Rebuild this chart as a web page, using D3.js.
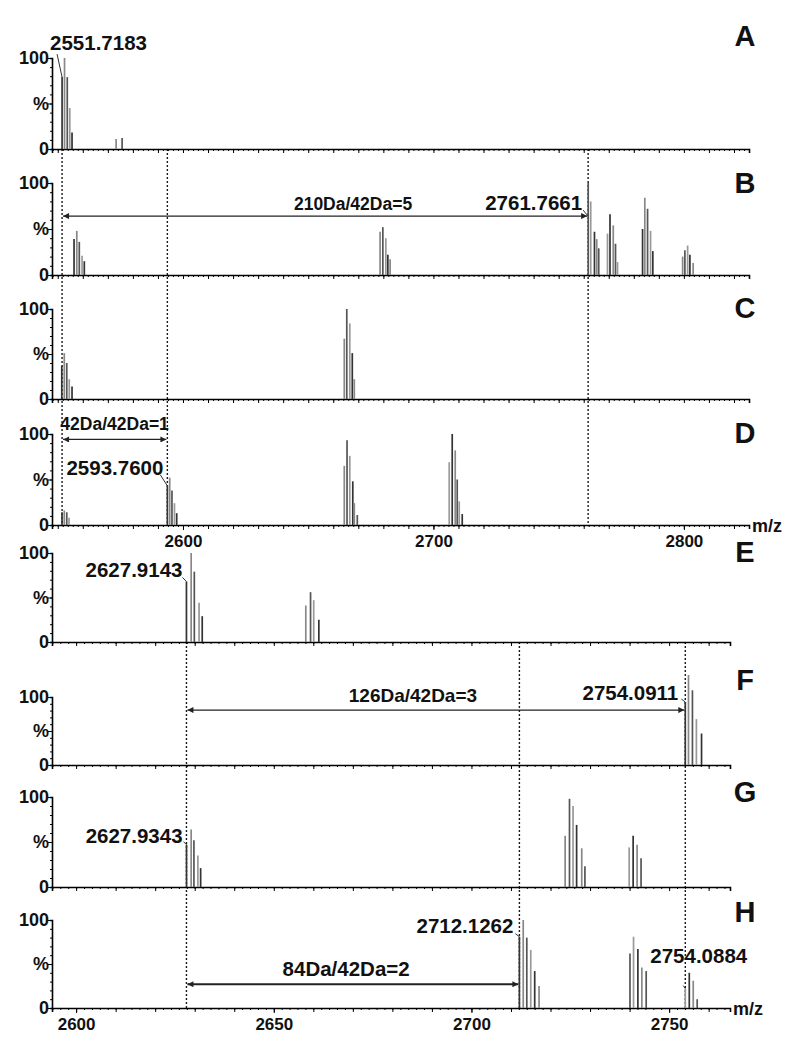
<!DOCTYPE html>
<html>
<head>
<meta charset="utf-8">
<script src="https://cdn.jsdelivr.net/npm/d3@7"></script>
<style>
  body { margin: 0; background: #fff; }
  svg { font-family: "Liberation Sans", Arial, sans-serif; font-weight: bold; }
</style>
</head>
<body>
<div id="chart"></div>
<script>
// peaks per panel: [m/z, relative intensity %]
const peaksA = [[2551.72, 79], [2552.7, 100], [2553.8, 79], [2554.8, 45], [2555.7, 18], [2573.3, 11], [2575.7, 12]];
const peaksB = [[2556.5, 39], [2557.6, 48], [2558.6, 36], [2559.7, 21], [2560.6, 15],
  [2678.7, 47], [2679.8, 52], [2681.0, 40], [2681.8, 22], [2682.7, 17],
  [2761.8, 100], [2762.8, 80], [2764.3, 47], [2765.2, 39], [2766.0, 29],
  [2769.5, 45], [2770.5, 66], [2771.8, 54], [2772.7, 34], [2773.5, 14],
  [2783.5, 50], [2784.4, 84], [2785.5, 72], [2786.7, 48], [2787.6, 26],
  [2799.5, 20], [2800.4, 27], [2801.5, 32], [2802.4, 22], [2803.7, 13]];
const peaksC = [[2551.6, 37], [2552.6, 51], [2553.6, 40], [2554.6, 22], [2555.7, 14],
  [2664.4, 67], [2665.4, 100], [2666.6, 84], [2667.6, 51], [2668.4, 22]];
const peaksD = [[2551.7, 14], [2552.6, 16], [2553.6, 14], [2554.5, 8],
  [2593.76, 43], [2594.7, 52], [2595.6, 38], [2596.6, 24], [2597.5, 13],
  [2664.4, 65], [2665.5, 93], [2666.6, 76], [2667.8, 48], [2668.4, 24], [2669.6, 11],
  [2706.3, 69], [2707.5, 100], [2708.7, 82], [2709.5, 50], [2710.3, 26], [2711.5, 12]];
const peaksE = [[2627.91, 68], [2629.1, 100], [2629.9, 79], [2631.1, 44], [2631.9, 29],
  [2658.1, 41], [2659.3, 56], [2660.1, 47], [2661.4, 25]];
const peaksF = [[2754.09, 70], [2754.9, 100], [2755.9, 83], [2756.9, 51], [2758.2, 35]];
const peaksG = [[2627.93, 47], [2629.1, 64], [2629.8, 52], [2630.8, 35], [2631.5, 21],
  [2723.7, 57], [2724.8, 98], [2725.7, 90], [2726.6, 69], [2727.9, 43], [2728.7, 23],
  [2739.9, 44], [2740.9, 57], [2741.9, 47], [2742.9, 32]];
const peaksH = [[2712.13, 81], [2713.1, 100], [2714.0, 80], [2715.0, 66], [2716.0, 42], [2717.1, 25],
  [2740.1, 62], [2741.0, 81], [2742.1, 67], [2743.1, 46], [2744.2, 42],
  [2754.09, 22], [2755.1, 40], [2756.1, 31], [2757.1, 10]];

const topTicks = [2600, 2700, 2800];
const bottomTicks = [2600, 2650, 2700, 2750];
const topMarks = [2551.72, 2593.76, 2761.77];
const bottomMarks = [2627.91, 2712.13, 2754.09];
const yLabels = [[0, "0"], [50, "%"], [100, "100"]];

const W = 800, H = 1046;
const svg = d3.select("#chart").append("svg").attr("width", W).attr("height", H);

const xTop = d3.scaleLinear().domain([2547.7, 2826]).range([52, 749]);
const xBot = d3.scaleLinear().domain([2593.9, 2765.4]).range([52, 730]);

// axTop: where the printed y axis starts when it is shorter than the plot (panel F)
const panels = [
  {name: "A", peaks: peaksA, x: xTop, top: 58, h: 91, ly: 46},
  {name: "B", peaks: peaksB, x: xTop, top: 183, h: 92, ly: 193},
  {name: "C", peaks: peaksC, x: xTop, top: 309, h: 90, ly: 318},
  {name: "D", peaks: peaksD, x: xTop, top: 434, h: 91, ly: 443, ticks: topTicks},
  {name: "E", peaks: peaksE, x: xBot, top: 553, h: 89, ly: 562},
  {name: "F", peaks: peaksF, x: xBot, top: 675, h: 90, ly: 690, axTop: 697},
  {name: "G", peaks: peaksG, x: xBot, top: 797, h: 90, ly: 802},
  {name: "H", peaks: peaksH, x: xBot, top: 920, h: 88, ly: 922, ticks: bottomTicks}
];
panels.forEach(p => {
  p.y = d3.scaleLinear().domain([0, 100]).range([p.top + p.h, p.top]);
  p.ya = d3.scaleLinear().domain([0, 100]).range([p.top + p.h, p.axTop || p.top]);
});
const P = {};
panels.forEach(p => P[p.name] = p);

// arrow marker
svg.append("defs").append("marker")
  .attr("id", "arr").attr("viewBox", "0 0 10 10").attr("refX", 10).attr("refY", 5)
  .attr("markerWidth", 7).attr("markerHeight", 6).attr("markerUnits", "userSpaceOnUse")
  .attr("orient", "auto-start-reverse")
  .append("path").attr("d", "M0,0L10,5L0,10z").attr("fill", "#222");

// dashed guide lines
const guides = [[topMarks, xTop, P.A, P.D], [bottomMarks, xBot, P.E, P.H]];
guides.forEach(([marks, x, first, last]) => {
  svg.append("g").selectAll("line").data(marks).join("line")
    .attr("x1", d => x(d)).attr("x2", d => x(d))
    .attr("y1", first.y(0)).attr("y2", last.y(0) + 1)
    .attr("stroke", "#1a1a1a").attr("stroke-width", 1.4).attr("stroke-dasharray", "2,2");
});

panels.forEach(p => {
  const g = svg.append("g");
  const [d0, d1] = p.x.domain();

  // x axis: minor ticks every 2 Da, medium every 10 Da
  const minor = d3.range(Math.ceil(d0 / 2) * 2, d1, 2);
  const medium = d3.range(Math.ceil(d0 / 10) * 10, d1, 10);
  g.append("g").attr("transform", `translate(0,${p.y(0)})`)
    .call(d3.axisBottom(p.x).tickValues(minor).tickSize(2).tickFormat(""))
    .call(a => a.select(".domain").remove());
  g.append("g").attr("transform", `translate(0,${p.y(0)})`)
    .call(d3.axisBottom(p.x).tickValues(medium).tickSize(4).tickFormat(""))
    .call(a => a.select(".domain").attr("stroke-width", 1.6));
  if (p.ticks) {
    g.append("g").attr("transform", `translate(0,${p.y(0)})`)
      .call(d3.axisBottom(p.x).tickValues(p.ticks).tickSize(5).tickPadding(5).tickFormat(d3.format("d")))
      .call(a => a.select(".domain").remove())
      .call(a => a.selectAll("text").attr("font-size", 17).attr("font-weight", "bold")
        .attr("font-family", "Liberation Sans, Arial, sans-serif").attr("fill", "#111"));
    g.append("text").attr("x", p.x.range()[1] + 3).attr("y", p.y(0) + 7)
      .attr("font-size", 18).attr("fill", "#111").text("m/z");
  }

  // y axis
  g.append("g").attr("transform", `translate(${p.x.range()[0]},0)`)
    .call(d3.axisLeft(p.ya).tickValues(d3.range(0, 101, 10)).tickSize(2).tickFormat(""))
    .call(a => a.select(".domain").attr("stroke-width", 1.6));
  g.append("g").attr("transform", `translate(${p.x.range()[0]},0)`)
    .call(d3.axisLeft(p.ya).tickValues(yLabels.map(d => d[0])).tickSize(4).tickFormat(""))
    .call(a => a.select(".domain").remove());
  g.selectAll(".ylab").data(yLabels).join("text")
    .attr("x", p.x.range()[0] - 3).attr("y", d => p.ya(d[0]))
    .attr("dy", "0.36em").attr("text-anchor", "end").attr("font-size", 18).attr("fill", "#111")
    .text(d => d[1]);

  // peaks
  g.append("g").selectAll("line").data(p.peaks).join("line")
    .attr("x1", d => p.x(d[0])).attr("x2", d => p.x(d[0]))
    .attr("y1", p.y(0)).attr("y2", d => p.y(d[1]))
    .attr("stroke", (d, i) => ["#333", "#888", "#555", "#999"][i % 4]).attr("stroke-width", 1.7);

  // panel letter
  g.append("text").attr("x", 745).attr("y", p.ly).attr("text-anchor", "middle")
    .attr("font-size", 29).attr("fill", "#111").text(p.name);
});

// mass annotations: text offset (dx,dy) and leader start offset (lx,ly) from peak top
const notes = [
  {p: "A", text: "2551.7183", mz: 2551.72, v: 79, anchor: "start", dx: -12, dy: -27, lx: -5, ly: -23},
  {p: "B", text: "2761.7661", mz: 2761.77, v: 64, anchor: "end", dx: -6, dy: -6, lx: -5, ly: -6},
  {p: "D", text: "2593.7600", mz: 2593.76, v: 43, anchor: "end", dx: -4, dy: -11, lx: -7, ly: -11},
  {p: "E", text: "2627.9143", mz: 2627.91, v: 68, anchor: "end", dx: -4, dy: -4, lx: -4, ly: -4},
  {p: "F", text: "2754.0911", mz: 2754.09, v: 70, anchor: "end", dx: -7, dy: -2, lx: -4, ly: -3},
  {p: "G", text: "2627.9343", mz: 2627.93, v: 47, anchor: "end", dx: -4, dy: -2, lx: -3, ly: -3},
  {p: "H", text: "2712.1262", mz: 2712.13, v: 81, anchor: "end", dx: -6, dy: -4, lx: -4, ly: -3},
  {p: "H", text: "2754.0884", mz: 2754.09, v: 22, anchor: "start", dx: -35, dy: -26, lx: -2, ly: -3}
];
notes.forEach(n => {
  const p = P[n.p], px = p.x(n.mz), py = p.y(n.v);
  svg.append("text").attr("x", px + n.dx).attr("y", py + n.dy).attr("text-anchor", n.anchor)
    .attr("font-size", 20.5).attr("fill", "#111").text(n.text);
  svg.append("line").attr("x1", px + n.lx).attr("y1", py + n.ly).attr("x2", px).attr("y2", py)
    .attr("stroke", "#333").attr("stroke-width", 1);
});

// mass-difference arrows
const arrows = [
  {p: "B", from: 2551.72, to: 2761.77, v: 64, text: "210Da/42Da=5", tmz: 2667.9, tv: 71, size: 17.5, w: 1.3},
  {p: "D", from: 2551.72, to: 2593.76, v: 94, text: "42Da/42Da=1", tmz: 2572.7, tv: 104, size: 17.5, w: 1.3},
  {p: "F", from: 2627.91, to: 2754.09, v: 61, text: "126Da/42Da=3", tmz: 2685.2, tv: 70, size: 19, w: 1.3},
  {p: "H", from: 2627.91, to: 2712.13, v: 27, text: "84Da/42Da=2", tmz: 2668.3, tv: 36, size: 20.5, w: 2}
];
arrows.forEach(a => {
  const p = P[a.p];
  svg.append("line").attr("x1", p.x(a.from) + 1).attr("x2", p.x(a.to) - 1)
    .attr("y1", p.y(a.v)).attr("y2", p.y(a.v))
    .attr("stroke", "#222").attr("stroke-width", a.w)
    .attr("marker-start", "url(#arr)").attr("marker-end", "url(#arr)");
  svg.append("text").attr("x", p.x(a.tmz)).attr("y", p.y(a.tv)).attr("text-anchor", "middle")
    .attr("font-size", a.size).attr("fill", "#111").text(a.text);
});
</script>
</body>
</html>
